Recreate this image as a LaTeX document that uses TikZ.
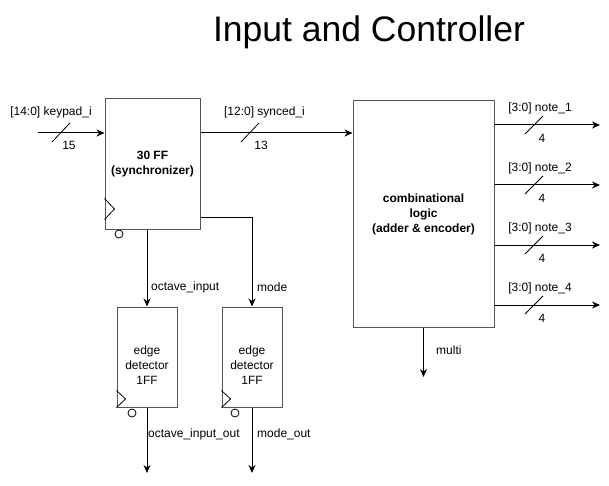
\documentclass[tikz,border=0pt]{standalone}
\usepackage{fontspec}
\setmainfont{Liberation Sans}
\usetikzlibrary{arrows.meta,positioning,calc}
\definecolor{edge}{HTML}{555555}
\tikzset{
  blk/.style={draw=edge,line width=1pt,fill=white,align=center,inner sep=2pt,font=\fontsize{12}{15}\selectfont},
  bblk/.style={blk,font=\fontsize{12}{15}\selectfont\bfseries},
  ar/.style={-{Stealth[length=8pt,width=7pt]},line width=1pt,draw=black},
  lbl/.style={inner sep=0pt,font=\fontsize{12}{14}\selectfont},
  clk/.style={draw=black,line width=0.8pt},
}
\begin{document}
\begin{tikzpicture}[x=1pt,y=-1pt]
  \useasboundingbox (0,0) rectangle (609,486);
  \node[font=\fontsize{35.5}{42}\selectfont] (title) at (369,32) {Input and Controller};

  % blocks
  \node[bblk,minimum width=95pt,minimum height=130pt] (sync) at (152.5,164) {30 FF\\(synchronizer)};
  \node[bblk,minimum width=141pt,minimum height=226pt] (comb) at (423.5,214) {combinational\\logic\\(adder \& encoder)};
  \node[blk,minimum width=60pt,minimum height=100pt] (ed1) at (147,357) {};
  \node[blk,minimum width=60pt,minimum height=100pt] (ed2) at (252,357) {};
  \node[lbl,align=center,font=\fontsize{12}{15}\selectfont] (ed1txt) at ([yshift=-8pt]ed1.center) {edge\\detector\\1FF};
  \node[lbl,align=center,font=\fontsize{12}{15}\selectfont] (ed2txt) at ([yshift=-8pt]ed2.center) {edge\\detector\\1FF};

  % clock marks
  \draw[clk] ([yshift=10pt]sync.south west) -- ++(10,-10.5) -- ++(-10,-10.5);
  \draw[clk] (ed1.south west) -- ++(9,-8.5) -- ++(-9,-8.5);
  \draw[clk] (ed2.south west) -- ++(9,-8.5) -- ++(-9,-8.5);
  \draw[clk] (119,234) circle (4);
  \draw[clk] (132,413) circle (4);
  \draw[clk] (235,413) circle (4);

  % input and synced bus
  \coordinate (kin) at (38,133);
  \draw[ar] (kin) -- (kin -| sync.west);
  \draw[line width=0.8pt] (52,142) -- (70,123);
  \node[lbl] (kinl) at (51,112) {[14:0] keypad\_i};
  \node[lbl] (kinw) at (69,145) {15};
  \draw[ar] (sync.east |- kin) -- (comb.west |- kin);
  \draw[line width=0.8pt] (241,142) -- (259,123);
  \node[lbl] (synl) at (264.5,112) {[12:0] synced\_i};
  \node[lbl] (synw) at (261,145) {13};

  % to edge detectors
  \draw[ar] (ed1.north |- sync.south) -- (ed1.north);
  \node[lbl,anchor=west] (octl) at (151,287) {octave\_input};
  \draw[ar] ([yshift=12pt]sync.south east) -| (ed2.north);
  \node[lbl,anchor=west] (model) at (257,287) {mode};

  % edge detector outputs
  \coordinate (o1) at (147,473);
  \coordinate (o2) at (252,473);
  \draw[ar] (ed1.south) -- (o1);
  \draw[ar] (ed2.south) -- (o2);
  \node[lbl,anchor=west] (o1l) at (148,434) {octave\_input\_out};
  \node[lbl,anchor=west] (o2l) at (257,434) {mode\_out};

  % note outputs
  \coordinate (n1) at (600,125);
  \coordinate (n2) at (600,185);
  \coordinate (n3) at (600,245);
  \coordinate (n4) at (600,305);
  \draw[ar] (comb.east |- n1) -- (n1);
  \draw[line width=0.8pt] (525,134) -- (543,116);
  \node[lbl] (n1l) at (540,108) {[3:0] note\_1};
  \node[lbl] (n1w) at (542,138) {4};
  \draw[ar] (comb.east |- n2) -- (n2);
  \draw[line width=0.8pt] (525,194) -- (543,176);
  \node[lbl] (n2l) at (540,168) {[3:0] note\_2};
  \node[lbl] (n2w) at (542,198) {4};
  \draw[ar] (comb.east |- n3) -- (n3);
  \draw[line width=0.8pt] (525,254) -- (543,236);
  \node[lbl] (n3l) at (540,228) {[3:0] note\_3};
  \node[lbl] (n3w) at (542,258) {4};
  \draw[ar] (comb.east |- n4) -- (n4);
  \draw[line width=0.8pt] (525,314) -- (543,296);
  \node[lbl] (n4l) at (540,288) {[3:0] note\_4};
  \node[lbl] (n4w) at (542,318) {4};

  % multi
  \coordinate (mo) at (423.5,377);
  \draw[ar] (comb.south) -- (mo);
  \node[lbl,anchor=west] (mol) at (436,350) {multi};
\end{tikzpicture}
\end{document}
